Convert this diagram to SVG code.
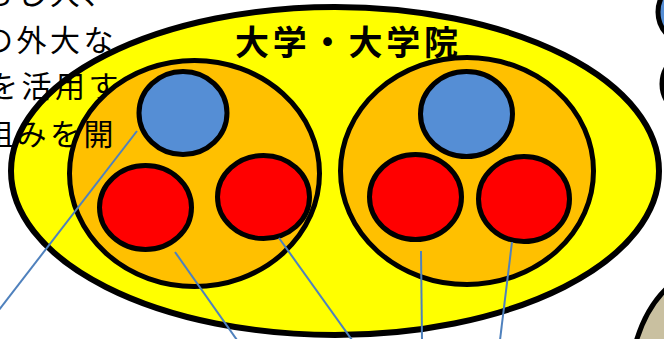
<svg xmlns="http://www.w3.org/2000/svg" width="664" height="339" viewBox="0 0 664 339">
<style>
.stk{stroke:#000;stroke-width:5}
.outer{fill:#FFFF00;stroke:#000;stroke-width:6}
.org{fill:#FFC000}
.blu{fill:#558ED5}
.red{fill:#FF0000}
.con{stroke:#4F81BD;stroke-width:2;fill:none}
.body{font-family:"Noto Sans CJK JP","Noto Sans CJK SC",sans-serif;font-size:30px;fill:#000;letter-spacing:3.5px}
.title{font-family:"Noto Sans CJK JP","Noto Sans CJK SC",sans-serif;font-size:34px;font-weight:bold;fill:#000}
</style>
<rect width="664" height="339" fill="#FFFFFF"/>
<g id="side-shapes">
<circle cx="690" cy="12" r="32" class="blu stk"/>
<circle cx="694" cy="84" r="32" fill="#FFFFFF" class="stk"/>
<path d="M 636 342 Q 646 308 667 288 L 667 342 Z" fill="#C9C0A0" stroke="#000" stroke-width="5"/>
</g>
<g id="university">
<ellipse cx="335" cy="171" rx="324" ry="164" class="outer"/>
</g>
<g id="group-left">
<ellipse cx="194.5" cy="173.5" rx="125" ry="113" class="org stk"/>
<ellipse id="left-blue" cx="183" cy="113" rx="44" ry="41.5" class="blu stk"/>
<ellipse id="left-red1" cx="145.5" cy="207.5" rx="46" ry="42" class="red stk"/>
<ellipse id="left-red2" cx="263.5" cy="197" rx="46" ry="41.5" class="red stk"/>
</g>
<g id="group-right">
<ellipse cx="467" cy="171" rx="126.5" ry="113.5" class="org stk"/>
<ellipse id="right-blue" cx="466.5" cy="114" rx="46" ry="42.5" class="blu stk"/>
<ellipse id="right-red1" cx="415.5" cy="197" rx="46" ry="42.5" class="red stk"/>
<ellipse id="right-red2" cx="524" cy="199" rx="45.5" ry="42.5" class="red stk"/>
</g>
<g id="connectors">
<line x1="137" y1="131" x2="-1" y2="310" class="con"/>
<line x1="175" y1="252" x2="237" y2="340" class="con"/>
<line x1="279" y1="238" x2="352" y2="340" class="con"/>
<line x1="421" y1="251" x2="422" y2="340" class="con"/>
<line x1="512" y1="242" x2="500" y2="340" class="con"/>
</g>
<g id="title">
<text x="235" y="55" class="title" textLength="223" lengthAdjust="spacing">大学・大学院</text>
</g>
<g id="side-text">
<text x="-17" y="4" class="body">もし大、</text>
<text x="-17" y="51" class="body">の外大な</text>
<text x="-12" y="97" class="body">を活用す</text>
<text x="-17" y="145" class="body">組みを開</text>
</g>
</svg>
